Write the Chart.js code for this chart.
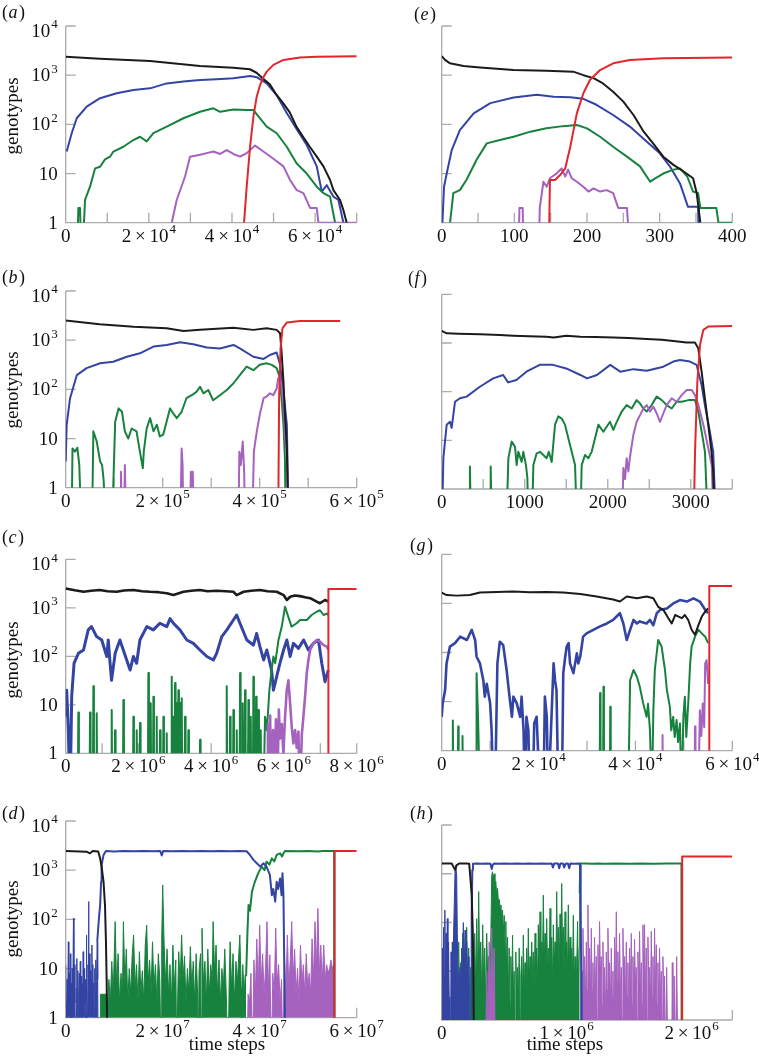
<!DOCTYPE html>
<html>
<head>
<meta charset="utf-8">
<title>genotypes over time</title>
<script src="https://cdn.jsdelivr.net/npm/chart.js@4.4.1/dist/chart.umd.min.js"></script>
<style>
  html, body { margin: 0; padding: 0; background: #fff; }
  #page { position: relative; width: 759px; height: 1064px; overflow: hidden; }
  #page canvas { position: absolute; left: 0; top: 0; }
</style>
</head>
<body>
<div id="page"></div>
<script>
'use strict';

// ---- shared ----
const SERIF = '"Liberation Serif", "Times New Roman", "DejaVu Serif", serif';
const COLORS = { black: '#1b1b1b', blue: '#3444a3', green: '#17823e', purple: '#a562be', red: '#e1262c' };
const Z = 0.1; // zero count: sits below the log axis and gets clipped

const yTicks = [1, 10, 100, 1000, 10000];
const yTickText = [['1', ''], ['10', ''], ['10', '2'], ['10', '3'], ['10', '4']];
const TIMES = '\u2009×\u2009';

// ---- (a) time in 10^3 steps ----
const aXLabels = [[0, '0', ''], [20, '2' + TIMES + '10', '4'], [40, '4' + TIMES + '10', '4'], [60, '6' + TIMES + '10', '4']];
const aBlack = [[0,2380],[8.2,2170],[20.3,1940],[32.3,1530],[40.3,1420],[44.3,1320],[45.9,1120],[47.5,850],[49.1,650],[50.7,400],[52.3,270],[53.9,175],[55.5,90],[57.1,56],[58.7,35],[60.4,22],[62,14],[63.6,7.4],[64.4,4.6],[66,2.9],[66.8,1.8],[67.6,1]];
const aBlue = [[0.24,28],[1.44,66],[2.65,133],[5.05,230],[8.26,340],[12.27,430],[16.28,500],[20.29,540],[24.3,680],[28.31,740],[32.32,800],[36.33,830],[40.34,870],[44.35,960],[45.95,910],[48.36,680],[50.76,390],[53.17,170],[55.57,80],[57.98,38],[60.39,14],[61.59,4.3],[62.79,5.8],[64.39,3.4],[65.6,2.9],[66.8,1]];
const aGreen = [[2.65,Z],[3.05,2],[3.45,2],[3.85,Z],[4.65,2.9],[5.85,5.4],[7.06,12.7],[8.26,13.7],[9.46,19.4],[10.67,22],[11.47,28],[13.87,35],[16.28,48],[17.88,56],[19.49,45],[21.09,66],[24.3,90],[28.31,133],[32.32,180],[35.53,212],[37.13,180],[40.34,200],[43.54,195],[45.15,195],[46.75,133],[48.36,90],[50.76,66],[53.17,35],[55.57,16],[57.98,10],[60.39,5.4],[61.99,4],[63.59,3.4],[64.8,1]];
const aPurple = [[25.5,1],[26.7,2.9],[28.71,8.7],[29.91,22],[32.32,24],[33.92,26],[35.53,28],[37.13,25],[38.73,30],[40.34,25],[41.94,22],[43.54,26],[45.55,37],[47.55,28],[49.96,20],[52.37,14],[53.97,7.4],[55.57,4.6],[57.18,4],[58.78,2],[60.39,2],[60.79,1],[70,1]];
const aRed = [[42.9,1],[43.54,5.4],[44.35,35],[45.15,144],[45.95,365],[46.75,630],[47.55,910],[48.36,1180],[49.96,1620],[52.37,2040],[56.38,2300],[60.39,2380],[70,2420]];

// ---- (e) time in steps ----
const eXLabels = [[0, '0', ''], [100, '100', ''], [200, '200', ''], [300, '300', ''], [400, '400', '']];
const eBlack = [[0,2450],[4.6,2040],[11.5,1740],[30,1540],[53,1440],[99,1270],[144,1230],[181,1180],[195,1000],[209,870],[222,680],[236,460],[250,290],[264,155],[278,71],[291,41],[305,22],[319,15],[333,11],[346,8],[351,4],[356,1]];
const eBlue = [[1,1],[3.2,5.4],[6.9,10],[13.8,30],[25,76],[44,167],[67,270],[99,350],[131,400],[154,365],[177,355],[195,330],[213,250],[236,155],[259,90],[282,45],[300,26],[314,14],[328,6.3],[339,2.1],[353,2.1],[354,Z]];
const eGreen = [[11.5,1],[16,4],[25,4.6],[34,7.4],[48,19],[62,41],[80,48],[99,56],[122,71],[144,83],[167,92],[186,97],[200,83],[218,56],[236,35],[255,22],[273,14],[287,6.8],[291,7.5],[305,10],[319,12],[328,12.7],[338,8.7],[346,4.3],[353,4],[356,2],[378,2],[381,1],[400,1]];
const ePurple = [[105.5,Z],[107,2],[111.5,2],[113,Z],[133,Z],[135,2],[140,6.8],[144.5,5.4],[149,8],[158,10],[165,12.7],[170,8.7],[174,12],[179,8],[186,6.8],[195,5.4],[202,4.3],[209,5],[218,4.3],[227,4.6],[236,4],[243,2],[255,2],[261,Z]];
const eRed = [[147,Z],[149,7.4],[156,7.4],[163,9.3],[170,12.7],[177,35],[186,167],[195,430],[204,800],[218,1270],[236,1740],[259,2040],[305,2200],[400,2300]];

// ---- (b) time in 10^4 steps ----
const bXLabels = [[0, '0', ''], [20, '2' + TIMES + '10', '5'], [40, '4' + TIMES + '10', '5'], [60, '6' + TIMES + '10', '5']];
const bBlack = [[0,2500],[7,2100],[14,1870],[20.8,1740],[24.3,1540],[27.7,1620],[34.6,1780],[38.7,1620],[41.4,1740],[43.5,1620],[44.2,1380],[44.5,590],[44.9,144],[45.2,30],[45.6,6.3],[46,Z]];
const bBlue = [[0,3.4],[0.2,19],[0.9,66],[2.3,195],[4.3,270],[7.1,340],[9.8,365],[12.6,460],[15.3,540],[18.1,740],[20.8,800],[23.6,910],[26.3,830],[29.1,710],[31.8,680],[34.6,800],[35.9,680],[38.7,460],[40.8,415],[42.1,500],[43.5,560],[44.2,315],[44.9,90],[45.6,19],[46,Z]];
const bGreen = [[1.2,Z],[1.4,6.3],[1.9,5.4],[2.4,6.5],[2.8,2.9],[3.3,Z],[5.4,Z],[5.7,14],[6.4,8.7],[7.1,3.4],[7.5,2.9],[7.8,1.5],[8.5,Z],[9.5,Z],[10.2,22],[10.9,41],[11.6,35],[12.2,14],[12.9,10],[13.6,16],[14.6,14],[15.3,5.4],[15.9,2.5],[16.1,5.4],[16.7,16],[17.4,26],[18.1,14],[18.8,19],[19.4,11],[20.1,12],[20.8,22],[21.5,41],[22.2,32],[22.9,26],[23.9,35],[24.9,66],[26,76],[27,90],[27.7,113],[28.4,83],[29.4,97],[30.4,60],[31.8,76],[33.2,97],[34.6,133],[35.9,195],[37.3,290],[38.7,245],[40,315],[41.4,340],[42.5,315],[43.5,270],[44,195],[44.5,66],[44.9,19],[45.2,4],[45.4,Z]];
const bPurple = [[11.2,Z],[11.4,2.1],[11.6,Z],[12,Z],[12.2,2.9],[12.5,Z],[23.6,Z],[23.9,6.3],[24.1,2.9],[24.3,Z],[25.6,Z],[25.8,2.1],[26,Z],[26.2,2.1],[26.5,Z],[35.6,Z],[35.8,5.4],[36.1,2.9],[36.5,8.7],[36.8,2.1],[37,Z],[38.4,Z],[38.8,5.4],[39.4,14],[40,30],[40.8,66],[41.4,71],[42.1,83],[42.8,76],[43.5,104],[43.8,167],[44.2,167],[44.5,122],[44.9,48],[45.2,14],[45.6,4],[45.9,Z]];
const bRed = [[43.8,Z],[44,66],[44.3,680],[44.7,1740],[45.6,2300],[48.3,2450],[56.6,2450]];

// ---- (f) time in steps ----
const fXLabels = [[0, '0', ''], [1000, '1000', ''], [2000, '2000', ''], [3000, '3000', '']];
const fBlack = [[0,1770],[60,1580],[200,1550],[460,1510],[700,1450],[860,1410],[1050,1380],[1260,1350],[1350,1300],[1500,1410],[1670,1350],[1850,1330],[2070,1290],[2250,1260],[2470,1200],[2650,1170],[2790,1100],[2950,1020],[3050,1020],[3090,780],[3130,260],[3170,73],[3210,21],[3250,5.8],[3270,2.3],[3290,Z]];
const fBlue = [[0,Z],[20,4.3],[60,21],[100,24],[120,18],[160,62],[220,73],[300,79],[460,126],[620,187],[740,220],[800,155],[900,174],[1020,257],[1180,355],[1340,355],[1500,300],[1670,220],[1750,187],[1870,220],[2030,355],[2150,257],[2310,290],[2470,270],[2670,325],[2790,415],[2870,445],[2990,415],[3070,355],[3130,137],[3170,53],[3230,15],[3270,5.8],[3310,Z]];
const fGreen = [[333,Z],[340,2.9],[353,Z],[582,Z],[590,2.9],[606,Z],[775,Z],[803,4.3],[843,9.4],[883,7.4],[903,3.1],[923,5.8],[963,3.6],[983,5.8],[1015,3.1],[1032,1.65],[1048,Z],[1084,Z],[1104,3.1],[1144,5.4],[1184,5.8],[1224,5],[1264,4.3],[1290,5.8],[1325,3.6],[1365,21],[1405,31],[1445,28],[1485,21],[1525,11],[1566,5.8],[1606,3.1],[1634,Z],[1666,Z],[1686,3.1],[1726,5],[1766,4.3],[1806,5.8],[1847,11],[1887,21],[1947,15],[2027,24],[2067,16.4],[2108,24],[2168,39],[2228,53],[2288,45],[2348,67],[2389,57],[2429,45],[2469,39],[2529,53],[2589,79],[2650,67],[2710,53],[2770,45],[2830,62],[2890,62],[2971,67],[3051,67],[3091,39],[3131,15],[3171,5.8],[3211,Z]];
const fPurple = [[2168,Z],[2188,2.7],[2208,1.6],[2228,4.3],[2248,2.3],[2268,4.6],[2308,12.8],[2348,24],[2389,33],[2429,45],[2469,53],[2509,39],[2549,49],[2589,36],[2629,24],[2670,36],[2710,53],[2770,73],[2830,62],[2890,85],[2951,108],[3011,108],[3051,85],[3091,53],[3151,21],[3211,6.9],[3252,3.1],[3284,Z]];
const fRed = [[3031,Z],[3051,5.8],[3079,160],[3111,910],[3151,1860],[3211,2180],[3500,2240]];

// ---- (c) time in 10^5 steps ----
const cXLabels = [[0, '0', ''], [20, '2' + TIMES + '10', '6'], [40, '4' + TIMES + '10', '6'], [60, '6' + TIMES + '10', '6'], [80, '8' + TIMES + '10', '6']];
const cBlack = [[0,2510],[2.5,2300],[4.9,2140],[7,2250],[9.4,2330],[11.5,2200],[14,2140],[16,2280],[18.6,2330],[21,2200],[23.2,2140],[25.5,2100],[27.8,2000],[29.6,1830],[32.4,2140],[34.5,2250],[36.9,2330],[39,2200],[41.5,2240],[44,2200],[46.1,2140],[47,1830],[48.9,2140],[51,2250],[53.4,2330],[55.5,2200],[58,2140],[59.9,1830],[60.8,1450],[61.7,1690],[63,1800],[64.4,1740],[65.8,1650],[67.2,1580],[69,1340],[69.9,1240],[71.3,1450],[72.2,1340]];
const cBlue = [[0,5.7],[0.27,20],[0.73,3],[1.19,Z],[1.65,15],[2.3,72],[3.5,115],[4.9,135],[6.2,350],[7.1,410],[8.5,255],[9.9,217],[11.3,99],[11.7,217],[12.2,72],[12.6,32],[13.6,115],[14.9,217],[16.3,106],[17.7,52],[18.6,99],[19.5,72],[20.4,217],[22.3,410],[24.1,350],[25.9,480],[27.8,410],[28.7,600],[29.6,480],[31.4,350],[33.3,217],[35.1,185],[36.9,135],[38.8,99],[40.6,84],[41.5,115],[42.9,255],[44.3,350],[46.1,560],[47,710],[47.9,480],[49.8,217],[51.6,170],[52.5,295],[53.4,158],[54.4,84],[55.3,135],[56.6,52],[57.1,20],[58,38],[58.9,72],[59.9,135],[60.8,217],[61.7,99],[62.6,185],[64,146],[65.4,217],[66.7,135],[68.1,185],[69.5,217],[70.4,72],[71.3,30],[72.2,52]];
const cGreen = [[3.33,Z],[3.48,6.9],[3.63,Z],[6.54,Z],[6.69,6.9],[6.84,Z],[7.46,Z],[7.61,24],[7.76,Z],[8.37,Z],[8.52,6.7],[8.67,Z],[12.5,Z],[12.65,7.8],[12.8,Z],[13.42,Z],[13.57,3],[13.72,Z],[15.71,Z],[15.86,12.6],[16.01,Z],[18.46,Z],[18.61,5.7],[18.76,Z],[19.37,Z],[19.52,3],[19.67,Z],[20.29,Z],[20.44,4.2],[20.59,Z],[22.58,Z],[22.73,45],[22.88,Z],[23.22,Z],[23.37,10.7],[23.52,Z],[23.96,Z],[24.11,14.7],[24.26,Z],[24.87,Z],[25.02,5.7],[25.17,Z],[25.79,Z],[25.94,3],[26.09,Z],[26.71,Z],[26.86,5.7],[27.01,Z],[27.62,Z],[27.77,2.6],[27.92,Z],[29,Z],[29.15,38],[29.3,Z],[29.46,Z],[29.61,5.7],[29.76,Z],[29.91,Z],[30.06,28],[30.21,Z],[30.37,Z],[30.52,10.7],[30.67,Z],[30.83,Z],[30.98,20],[31.13,Z],[31.29,Z],[31.44,10.7],[31.59,Z],[31.75,Z],[31.9,13.6],[32.05,Z],[32.66,Z],[32.81,5.7],[32.96,Z],[33.58,Z],[33.73,3],[33.88,Z],[36.79,Z],[36.94,1.9],[37.09,Z],[44.12,Z],[44.27,24],[44.42,Z],[45.04,Z],[45.19,5.7],[45.34,Z],[45.96,Z],[46.11,7.8],[46.26,Z],[46.87,Z],[47.02,3],[47.17,Z],[47.79,Z],[47.94,45],[48.09,Z],[48.52,Z],[48.67,10.7],[48.82,Z],[49.16,Z],[49.31,20],[49.46,Z],[50.08,Z],[50.23,12.6],[50.38,Z],[50.72,Z],[50.87,5.7],[51.02,Z],[51.45,Z],[51.6,38],[51.75,Z],[52.19,Z],[52.34,14.7],[52.49,Z],[52.83,Z],[52.98,7.8],[53.13,Z],[53.47,Z],[53.62,3],[53.77,Z],[54.35,Z],[54.8,5.7],[55.3,3],[56,20],[56.6,52],[57.1,99],[57.6,72],[58.5,217],[59.4,410],[60.3,1050],[61.2,650],[62.1,410],[63.5,480],[64.4,560],[66.3,560],[67.6,710],[69,830],[69.9,890],[70.9,710],[71.8,760],[72.2,710]];
const cPurple = [[55.4,Z],[55.6,4],[55.8,Z],[56.2,6],[56.5,Z],[57,3],[57.3,Z],[57.8,5],[58.1,Z],[58.6,8],[58.9,2],[59.4,4],[59.85,1],[60.31,5.7],[60.77,20],[61.23,32],[61.69,10.7],[62.15,3.4],[62.6,1.6],[63.06,3],[63.52,1.3],[63.98,2.8],[64.44,Z],[64.9,2.4],[65.35,5.7],[65.81,14.7],[66.27,45],[66.73,84],[67.19,135],[68.1,185],[69.02,217],[69.94,200],[70.85,170],[71.77,158],[72.23,135]];
const cRed = [[72.2,Z],[72.22,2450],[80,2450]];

// ---- (g) time in 10^3 steps ----
const gXLabels = [[0, '0', ''], [20, '2' + TIMES + '10', '4'], [40, '4' + TIMES + '10', '4'], [60, '6' + TIMES + '10', '4']];
const gBlack = [[0,1660],[1,1480],[3.1,1440],[5.8,1480],[7.9,1660],[11.4,1700],[14.8,1740],[18.2,1690],[21.7,1700],[25.1,1660],[28.6,1550],[32,1380],[35.4,1200],[36.8,1090],[38.2,1380],[40.3,1270],[42.3,1380],[43.7,1270],[44.7,850],[45.8,730],[46.8,500],[47.5,390],[48.2,580],[48.9,540],[49.6,500],[50.2,580],[50.9,460],[51.6,290],[52.3,230],[53,360],[53.7,540],[54.4,680],[55,790]];
const gBlue = [[0,4.9],[0.2,9.2],[0.7,17],[1,60],[1.7,132],[2.75,155],[3.8,210],[5.2,180],[6.2,290],[6.9,180],[7.2,82],[7.9,60],[8.6,27],[8.9,12.6],[9.3,23],[10,9.2],[10.3,2.6],[10.7,Z],[11,Z],[11.5,60],[12,166],[12.7,141],[13.4,44],[14,12.6],[14.5,4.9],[14.8,12.6],[15.5,9.2],[16.2,4.9],[16.5,12.6],[16.9,2.6],[17.2,Z],[17.5,4.9],[17.9,2.6],[18.2,Z],[18.8,Z],[19.1,3.6],[19.6,4.9],[20.3,Z],[21,Z],[21.3,12.6],[21.7,4.9],[22,Z],[23.1,60],[23.4,27],[23.7,17],[24.1,Z],[24.8,Z],[25.1,38],[25.5,82],[25.8,132],[26.2,155],[26.5,60],[27.2,38],[27.9,96],[28.2,60],[28.6,82],[29.2,210],[29.9,245],[31.3,290],[32.7,340],[34.1,390],[35.4,460],[36.1,540],[36.8,630],[37.5,390],[38.2,180],[38.9,290],[39.6,460],[40.3,390],[40.9,430],[42.3,390],[43,460],[43.7,360],[44.4,630],[45.1,740],[46.5,790],[47.8,1000],[49.2,1170],[50.6,1090],[52,1270],[53.3,1090],[54.4,740],[55,630]];
const gGreen = [[2.2,Z],[2.3,4.1],[2.4,Z],[3.3,Z],[3.4,3.1],[3.5,Z],[4.2,Z],[4.3,2],[4.4,Z],[7.1,Z],[7.2,38],[7.5,5],[7.9,Z],[32.6,Z],[32.7,15],[32.8,Z],[33.3,Z],[33.4,20],[33.5,Z],[34.7,Z],[34.8,7.9],[34.9,Z],[38.5,Z],[38.9,27],[39.6,44],[40.3,32],[40.9,20],[41.6,9.2],[42.3,4.9],[42.6,9],[43,2.6],[43.4,Z],[43.7,6.7],[44,44],[44.7,180],[45.4,132],[46.1,44],[46.5,17],[47.1,7.9],[47.4,2.6],[47.8,4.9],[48.1,1.9],[48.5,4.2],[48.8,1.5],[49.2,3.6],[49.5,Z],[49.9,4.9],[50.2,12.6],[50.5,1.9],[50.9,9.2],[51.3,60],[51.6,132],[52.3,210],[53,290],[53.7,245],[54.4,210],[55,155]];
const gPurple = [[45.5,Z],[45.6,2.1],[45.7,Z],[52.2,Z],[52.3,3.1],[52.4,Z],[53,Z],[53.3,6.7],[53.6,2],[53.9,9.2],[54.2,3],[54.4,60],[54.7,70],[55,23]];
const gRed = [[55.2,Z],[55.25,2250],[60,2250]];

// ---- (d) time in 10^6 steps ----
const dXLabels = [[0, '0', ''], [20, '2' + TIMES + '10', '7'], [40, '4' + TIMES + '10', '7'], [60, '6' + TIMES + '10', '7']];
const dBlack = [[0,2450],[4.3,2380],[5,2200],[5.6,2450],[6.7,2400],[7.1,1740],[7.4,1180],[7.8,580],[8.1,195],[8.3,35],[8.45,5.4],[8.6,Z]];
const dBlueSpikes = [[0,12],[0.1,2],[0.2,1],[0.3,6],[0.4,2],[0.55,35],[0.65,2],[0.75,8],[0.85,1],[0.95,20],[1.05,3],[1.15,5],[1.25,1],[1.35,10],[1.45,2],[1.6,105],[1.7,3],[1.8,12],[1.9,2],[2,Z],[2.1,Z],[2.2,4],[2.3,16],[2.4,2],[2.5,9],[2.6,1],[2.7,3],[2.8,8],[2.9,2],[3,14],[3.1,3],[3.2,7],[3.3,1],[3.4,5],[3.5,2],[3.6,22],[3.7,4],[3.8,10],[3.9,2],[4,1],[4.1,6],[4.2,2],[4.3,48],[4.4,Z],[4.5,Z],[4.6,12],[4.7,230],[4.8,5],[4.9,20],[5,3],[5.1,9],[5.2,2],[5.3,6],[5.4,30],[5.5,3],[5.6,12],[5.7,2],[5.8,5],[5.9,1],[6,10],[6.1,3],[6.2,15],[6.3,4],[6.4,8],[6.5,35],[6.6,6],[6.7,Z]];
const dBlue = [[6.5,35],[6.7,66],[6.9,120],[7.1,195],[7.3,580],[7.4,1270],[7.8,2040],[8.3,2450],[10,2400],[12,2450],[14,2420],[16,2450],[18,2430],[19.5,2450],[19.8,2000],[20.1,2450],[22,2430],[24,2450],[26,2420],[28,2450],[30,2430],[32,2450],[34,2440],[36,2450],[37.3,2420],[38,2040],[38.7,1620],[39.4,1380],[40.1,1180],[40.8,1380],[41.4,1180],[42.1,800],[42.5,310],[42.8,415],[43.2,230],[43.5,580],[43.8,415],[44.2,680],[44.5,310],[44.7,870],[44.9,310],[45.1,5.4],[45.3,Z]];
const dGreenSpikes = [[7.1,Z],[7.15,3],[8.5,3],[8.6,1],[8.9,6],[9.2,2],[9.5,14],[9.8,3],[10.2,90],[10.5,4],[10.8,20],[11.1,2],[11.4,8],[11.7,3],[11.9,90],[12.2,5],[12.5,25],[12.8,2],[13.1,10],[13.4,3],[13.7,18],[14,48],[14.3,4],[14.6,12],[14.9,2],[15.2,22],[15.5,3],[15.8,9],[16.1,2],[16.4,30],[16.7,76],[17,5],[17.3,15],[17.6,3],[17.9,35],[18.2,4],[18.5,12],[18.8,2],[19.1,20],[19.4,6],[19.7,Z],[19.8,40],[20,500],[20.3,30],[20.6,5],[20.9,25],[21.2,3],[21.5,12],[21.8,2],[22.1,30],[22.4,4],[22.7,15],[22.9,Z],[23.1,3],[23.3,22],[23.6,5],[23.9,48],[24.2,6],[24.5,18],[24.8,2],[25.1,10],[25.4,3],[25.7,28],[26,4],[26.3,14],[26.6,2],[26.9,20],[27.2,3],[27.3,Z],[27.5,9],[27.8,20],[28,Z],[28.1,66],[28.4,5],[28.7,14],[29,2],[29.3,25],[29.6,3],[29.9,12],[30.2,6],[30.4,90],[30.7,8],[31,30],[31.3,3],[31.6,15],[31.9,2],[32.2,10],[32.5,4],[32.8,25],[33.1,3],[33.5,Z],[33.7,5],[33.9,35],[34.2,4],[34.5,20],[34.8,2],[35.1,14],[35.4,5],[35.7,20],[35.9,48],[36.2,4],[36.3,Z],[36.5,12],[36.8,3],[37,7.4],[37.2,7]];
const dGreen = [[37.2,7],[37.5,66],[37.7,195],[38,150],[38.4,365],[39,580],[39.7,870],[40.4,1180],[41,1000],[41.4,1480],[42,1300],[42.5,1740],[43,1500],[43.5,2040],[44.2,2200],[44.6,1900],[44.9,2200],[45.2,2450],[48,2420],[50,2450],[52,2400],[53,2450],[55.35,2450],[55.4,Z]];
const dPurpleSpikes = [[37.4,Z],[37.6,3],[37.9,2],[38.2,8],[38.5,Z],[38.8,15],[39.1,3],[39.4,40],[39.7,4],[40,76],[40.3,5],[40.6,20],[40.9,3],[41.2,10],[41.5,90],[41.8,4],[42.1,19],[42.4,Z],[42.7,8],[43,3],[43.3,66],[43.6,5],[43.9,12],[44.2,2],[44.5,6],[44.8,Z],[45.1,20],[45.4,3],[45.7,48],[46,4],[46.3,15],[46.6,90],[46.9,6],[47.2,25],[47.5,3],[47.8,10],[48.1,2],[48.4,30],[48.7,5],[49,12],[49.3,3],[49.6,20],[49.9,4],[50.2,8],[50.5,3],[50.8,40],[51.1,6],[51.4,90],[51.7,10],[52,167],[52.3,8],[52.6,30],[52.9,5],[53.2,30],[53.5,6],[53.8,12],[54.1,8],[54.4,10],[54.7,15],[55,10],[55.3,12],[55.4,Z]];
const dRed = [[55.4,Z],[55.42,2450],[60,2450]];

// ---- (h) time in 10^4 steps ----
const hXLabels = [[0, '0', ''], [100, '1' + TIMES + '10', '6'], [200, '2' + TIMES + '10', '6']];
const hBlack = [[0,1620],[8,1620],[9.3,1400],[10.7,1200],[12,1500],[14,1620],[20,1620],[22,1600],[23.2,690],[24,365],[24.8,76],[25.3,16],[25.9,Z]];
const hBlueSpikes = [[0,Z],[0.5,30],[1,5],[1.5,80],[2,8],[2.5,180],[3,10],[3.5,60],[4,4],[4.5,120],[5,6],[5.5,40],[6,3],[6.5,Z],[7,Z],[7.5,25],[8,2],[8.5,40],[9,3],[9.5,60],[10,200],[10.7,1200],[11.2,1500],[12,900],[12.5,60],[13.1,3],[13.6,10],[14,Z],[14.5,12],[15.2,3],[16,30],[16.5,6],[17.3,100],[18,12],[18.7,70],[19.3,5],[20,40],[20.7,3],[21.3,20],[21.8,Z]];
const hBlue = [[23.5,Z],[24,150],[24.5,1200],[25,1600],[28,1620],[32,1600],[36,1620],[39,1600],[40,1250],[41,1550],[42,1620],[46,1600],[50,1620],[55,1600],[60,1620],[65,1610],[70,1620],[75,1600],[80,1620],[85,1610],[88,1620],[89,1350],[90,1620],[93,1620],[94,1300],[95,1620],[97,1620],[98,1350],[99,1600],[101,1620],[102,1300],[103,1620],[106,1600],[110,1620],[110.7,1500],[111.2,200],[111.6,10],[112,Z]];
const hGreenSpikes = [[12,Z],[12.8,3],[13.6,40],[14.4,2],[15.2,15],[16,1],[16.8,60],[17.6,4],[18.4,20],[19.2,1],[20,80],[20.8,5],[21.6,30],[22.4,2],[23.2,12],[24,1],[24.8,25],[25.6,3],[26.4,60],[27.2,4],[28,120],[28.8,6],[29.6,430],[30.4,10],[31.2,40],[32,3],[32.8,90],[33.6,5],[34.4,30],[35.2,2],[36,60],[36.8,8],[37.6,20],[38.4,3],[39.2,30],[40,900],[40.6,1100],[41.3,800],[42,1000],[42.6,600],[43.3,700],[44,365],[44.7,500],[45.4,250],[46,300],[46.7,200],[47.4,230],[48,120],[48.7,180],[49.3,60],[50,140],[50.7,30],[51.3,105],[52,8],[52.7,50],[53.3,3],[54,30],[54.7,2],[55.3,20],[56,4],[56.7,55],[57.3,3],[58,10],[58.7,Z],[59.3,25],[60,3],[60.7,12],[61.3,2],[62,30],[62.7,1],[63.3,8],[64,20],[64.7,3],[65.3,55],[66,4],[66.7,15],[67.3,2],[68,30],[68.7,5],[69.3,76],[70,6],[70.7,20],[71.3,3],[72,40],[72.7,8],[73.3,25],[74,4],[74.7,60],[75.3,10],[76,30],[76.7,5],[77.3,90],[78,12],[78.7,166],[79.3,8],[80,40],[80.7,20],[81.3,365],[82,15],[82.7,60],[83.3,6],[84,120],[84.7,10],[85.3,30],[86,12],[86.7,195],[87.3,8],[88,50],[88.7,5],[89.3,90],[90,12],[90.7,40],[91.3,8],[92,430],[92.7,20],[93.3,80],[94,10],[94.7,150],[95.3,12],[96,630],[96.7,25],[97.3,80],[98,8],[98.7,166],[99.3,6],[100,40],[100.7,10],[101.3,230],[102,12],[102.7,50],[103.3,4],[104,30],[104.7,8],[105.3,140],[106,6],[106.7,20],[107.3,3],[108,12],[108.7,105],[109.3,5],[110,30],[110.4,400]];
const hGreen = [[110.4,400],[110.8,1620],[115,1620],[120,1600],[125,1620],[130,1610],[140,1620],[150,1600],[160,1620],[170,1610],[180,1620],[191.8,1620],[192,Z]];
const hPurpleSpikes = [[35,Z],[36,10],[37,1],[38,40],[39,2],[40,76],[41,3],[42,30],[43,Z],[111,Z],[111.7,30],[112.3,3],[113,76],[113.7,5],[114.3,20],[115,2],[115.7,40],[116.3,4],[117,230],[117.7,6],[118.3,30],[119,3],[119.7,76],[120.3,4],[121,15],[121.7,2],[122.3,50],[123,3],[123.7,20],[124.3,1],[125,35],[125.7,5],[126.3,105],[127,8],[127.7,20],[128.3,2],[129,40],[129.7,3],[130.3,12],[131,1],[131.7,25],[132.3,4],[133,76],[133.7,5],[134.3,15],[135,2],[135.7,30],[136.3,3],[137,10],[137.7,1],[138.3,50],[139,4],[139.7,166],[140.3,6],[141,25],[141.7,2],[142.3,60],[143,3],[143.7,12],[144.3,1],[145,76],[145.7,5],[146.3,20],[147,2],[147.7,40],[148.3,3],[149,15],[149.7,1],[150.3,30],[151,4],[151.7,60],[152.3,2],[153,20],[153.7,3],[154.3,45],[155,5],[155.7,12],[156.3,1],[157,25],[157.7,3],[158.3,66],[159,4],[159.7,15],[160.3,2],[161,90],[161.7,5],[162.3,90],[163,3],[163.7,30],[164.3,1],[165,50],[165.7,4],[166.3,12],[167,2],[167.7,66],[168.3,3],[169,20],[169.7,1],[170.3,76],[171,4],[171.7,35],[172.3,2],[173,15],[173.7,1],[174.3,30],[175,3],[175.7,10],[176.3,1],[177,20],[177.7,2],[178.3,8],[179,Z],[180,12],[181,Z],[184,Z],[184.5,15],[185,Z],[186,8],[187,Z],[188,20],[189,Z]];
const hRed = [[192.3,Z],[192.4,2270],[232.5,2270]];

// ---- dataset helpers ----
function line(pairs, color, extra) {
  return Object.assign({
    data: pairs.map(([x, y]) => ({ x, y })),
    borderColor: color,
    backgroundColor: color,
    borderWidth: 2,
    borderJoinStyle: 'round',
    pointRadius: 0,
    fill: false,
    tension: 0
  }, extra || {});
}

// dense runs of spikes read as a solid band down to the axis
function spikes(pairs, color) {
  return line(pairs, color, { borderWidth: 1, fill: 'start' });
}

const thick = { borderWidth: 2.6 };

// first dataset is drawn on top
const panels = [
  { box: [65.7, 26, 356.7, 222.7], xMax: 70, xStep: 10, xLabels: aXLabels, yLabels: true, yTitle: 116, letter: ['a', 2, 13.5],
    sets: [line(aRed, COLORS.red), line(aBlack, COLORS.black), line(aPurple, COLORS.purple), line(aGreen, COLORS.green), line(aBlue, COLORS.blue)] },
  { box: [441.7, 26, 732.3, 222.7], xMax: 400, xStep: 50, xLabels: eXLabels, letter: ['e', 414, 15],
    sets: [line(eRed, COLORS.red), line(eBlack, COLORS.black), line(ePurple, COLORS.purple), line(eGreen, COLORS.green), line(eBlue, COLORS.blue)] },
  { box: [65.7, 291, 356.7, 487.7], xMax: 60, xStep: 10, xLabels: bXLabels, yLabels: true, yTitle: 390, letter: ['b', 2, 278.5],
    sets: [line(bRed, COLORS.red), line(bBlack, COLORS.black), line(bPurple, COLORS.purple), line(bGreen, COLORS.green), line(bBlue, COLORS.blue)] },
  { box: [441.7, 294.3, 732.3, 489], xMax: 3500, xStep: 500, xLabels: fXLabels, letter: ['f', 408, 279],
    sets: [line(fRed, COLORS.red), line(fBlack, COLORS.black), line(fPurple, COLORS.purple), line(fGreen, COLORS.green), line(fBlue, COLORS.blue)] },
  { box: [65.7, 559.3, 356.7, 753.3], xMax: 80, xStep: 10, xLabels: cXLabels, yLabels: true, yTitle: 660, letter: ['c', 2, 538.5],
    sets: [line(cRed, COLORS.red), line(cBlack, COLORS.black, thick), line(cPurple, COLORS.purple, thick), line(cGreen, COLORS.green), line(cBlue, COLORS.blue, { borderWidth: 3 })] },
  { box: [441.7, 554.3, 732.3, 750.7], xMax: 60, xStep: 10, xLabels: gXLabels, letter: ['g', 410, 546],
    sets: [line(gRed, COLORS.red), line(gBlack, COLORS.black), line(gPurple, COLORS.purple), line(gGreen, COLORS.green), line(gBlue, COLORS.blue, thick)] },
  { box: [65.7, 821, 356.7, 1017.7], xMax: 60, xStep: 10, xLabels: dXLabels, yLabels: true, yTitle: 919, letter: ['d', 2, 814], xTitle: [227, 1045],
    sets: [line(dRed, COLORS.red), line(dBlack, COLORS.black), line(dBlue, COLORS.blue), line(dGreen, COLORS.green),
           spikes(dPurpleSpikes, COLORS.purple), spikes(dGreenSpikes, COLORS.green), spikes(dBlueSpikes, COLORS.blue)] },
  { box: [441.7, 825, 732.3, 1020], xMax: 232.5, xStep: 0, xLabels: hXLabels, letter: ['h', 410, 814.5], xTitle: [565, 1045],
    sets: [line(hRed, COLORS.red), line(hBlack, COLORS.black), line(hBlue, COLORS.blue), line(hGreen, COLORS.green),
           spikes(hPurpleSpikes, COLORS.purple), spikes(hBlueSpikes, COLORS.blue), spikes(hGreenSpikes, COLORS.green)] }
];

// "10" with a raised exponent, anchored on its centre or right edge
function drawText(ctx, main, sup, x, y, align) {
  ctx.font = '19px ' + SERIF;
  const w1 = ctx.measureText(main).width;
  ctx.font = '13px ' + SERIF;
  const w2 = sup ? ctx.measureText(sup).width + 1 : 0;
  const x0 = align === 'right' ? x - w1 - w2 : x - (w1 + w2) / 2;
  ctx.textAlign = 'left';
  ctx.textBaseline = 'middle';
  ctx.font = '19px ' + SERIF;
  ctx.fillText(main, x0, y);
  if (sup) {
    ctx.font = '13px ' + SERIF;
    ctx.fillText(sup, x0 + w1 + 1, y - 7);
  }
}

function framePlugin(p) {
  return {
    id: 'frame',
    beforeDatasetsDraw(chart) {
      const { ctx, chartArea: a, scales: { x, y } } = chart;
      ctx.save();
      ctx.strokeStyle = '#ababab';
      ctx.lineWidth = 1.3;
      ctx.beginPath();
      ctx.moveTo(a.left, a.top);
      ctx.lineTo(a.left, a.bottom);
      ctx.lineTo(a.right, a.bottom);
      yTicks.forEach(v => {
        const py = y.getPixelForValue(v);
        ctx.moveTo(a.left, py);
        ctx.lineTo(a.left + 10, py);
      });
      const xt = [];
      if (p.xStep) for (let v = p.xStep; v < p.xMax; v += p.xStep) xt.push(v);
      xt.push(p.xMax);
      xt.forEach(v => {
        const px = x.getPixelForValue(v);
        ctx.moveTo(px, a.bottom);
        ctx.lineTo(px, a.bottom - 10);
      });
      ctx.stroke();
      ctx.restore();
    },
    afterDraw(chart) {
      const { ctx, chartArea: a, scales: { x, y } } = chart;
      ctx.save();
      ctx.fillStyle = '#111';
      p.xLabels.forEach(([v, main, sup]) => drawText(ctx, main, sup, x.getPixelForValue(v), a.bottom + 14, 'center'));
      if (p.yLabels) {
        yTicks.forEach((v, i) => {
          const [main, sup] = yTickText[i];
          drawText(ctx, main, sup, a.left - 8, y.getPixelForValue(v) + (i === yTicks.length - 1 ? 6 : 1), 'right');
        });
      }
      if (p.yTitle) {
        ctx.save();
        ctx.translate(13, p.yTitle);
        ctx.rotate(-Math.PI / 2);
        ctx.font = '19px ' + SERIF;
        ctx.textAlign = 'center';
        ctx.textBaseline = 'middle';
        ctx.fillText('genotypes', 0, 0);
        ctx.restore();
      }
      if (p.xTitle) {
        ctx.font = '19px ' + SERIF;
        ctx.textAlign = 'center';
        ctx.textBaseline = 'middle';
        ctx.fillText('time steps', p.xTitle[0], p.xTitle[1]);
      }
      // panel letter: upright brackets, italic letter
      const [ch, lx, ly] = p.letter;
      ctx.textAlign = 'left';
      ctx.textBaseline = 'middle';
      ctx.font = '18px ' + SERIF;
      ctx.fillText('(', lx, ly);
      let cx = lx + ctx.measureText('(').width + 0.5;
      ctx.font = 'italic 18px ' + SERIF;
      ctx.fillText(ch, cx, ly);
      cx += ctx.measureText(ch).width + 1.5;
      ctx.font = '18px ' + SERIF;
      ctx.fillText(')', cx, ly);
      ctx.restore();
    }
  };
}

function build() {
  const page = document.getElementById('page');
  panels.forEach(p => {
    const canvas = document.createElement('canvas');
    canvas.width = 759;
    canvas.height = 1064;
    page.appendChild(canvas);
    const [l, t, r, b] = p.box;
    new Chart(canvas.getContext('2d'), {
      type: 'line',
      data: { datasets: p.sets },
      options: {
        responsive: false,
        animation: false,
        events: [],
        layout: { padding: { left: l, top: t, right: 759 - r, bottom: 1064 - b } },
        plugins: { legend: { display: false }, tooltip: { enabled: false } },
        scales: {
          x: { type: 'linear', min: 0, max: p.xMax, display: false },
          y: { type: 'logarithmic', min: 1, max: 10000, display: false }
        }
      },
      plugins: [framePlugin(p)]
    });
  });
}

// make sure the serif face is ready before the canvases draw text
Promise.all([
  document.fonts.load('19px "Liberation Serif"'),
  document.fonts.load('italic 18px "Liberation Serif"')
]).catch(() => {}).then(build);
</script>
</body>
</html>
